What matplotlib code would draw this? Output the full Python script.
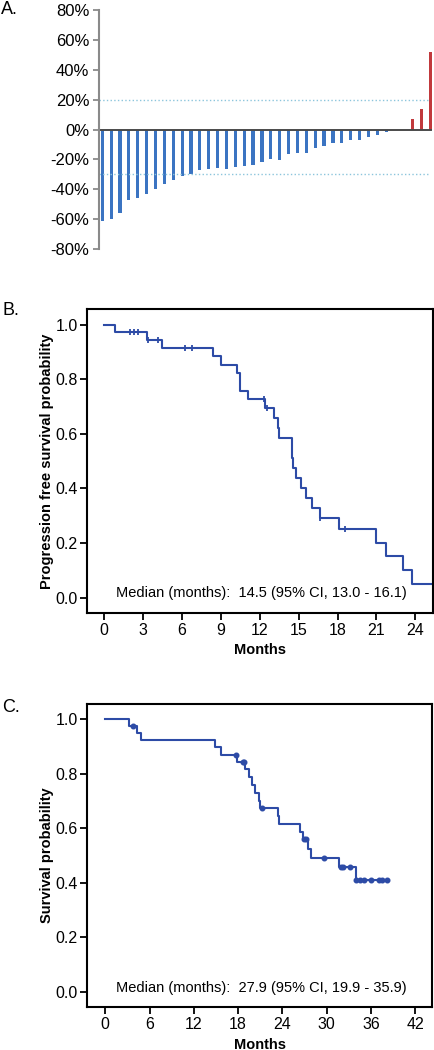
import matplotlib
matplotlib.use("Agg")
import matplotlib.pyplot as plt
import numpy as np

plt.rcParams['font.family'] = ['Liberation Sans', 'DejaVu Sans']

W, H = 435, 1050

# panel A: best change from baseline (%), one value per patient
change = [-61, -59.6, -56.2, -47.3, -45.6, -43, -40, -36.6, -33.5, -31.1,
          -29.6, -27, -26.2, -26.1, -26.4, -24.9, -24.3, -23.9, -21.8, -19.8,
          -20.2, -16.4, -15.6, -16, -12.3, -11.1, -9.3, -9.3, -6.8, -6.8,
          -5, -3.7, -1.8, 0, 0, 7.3, 13.6, 52.2]
pct_ticks = [-80, -60, -40, -20, 0, 20, 40, 60, 80]

# panel B: progression free survival
pfs_t = [0, 0.85, 3.32, 4.43, 8.36, 9.03, 10.26, 10.45, 11.06, 12.4, 13.07,
         13.38, 13.48, 14.48, 14.59, 14.79, 15.15, 15.56, 16.03, 16.62, 18.13,
         20.94, 21.74, 23.02, 23.72, 25.4]
pfs_s = [1.0, 0.972, 0.945, 0.916, 0.886, 0.853, 0.822, 0.758, 0.726, 0.694,
         0.658, 0.62, 0.585, 0.512, 0.475, 0.438, 0.402, 0.365, 0.329, 0.292,
         0.25, 0.202, 0.151, 0.101, 0.051, 0.051]
pfs_cens = [1.98, 2.29, 2.58, 3.4, 4.14, 6.23, 6.79, 12.35, 12.55, 16.65, 18.57]

# panel C: overall survival
os_t = [0, 3.26, 4.34, 4.88, 14.92, 15.73, 17.81, 18.99, 19.49, 19.89, 20.3,
        20.8, 21.0, 23.4, 23.5, 26.4, 26.8, 27.44, 27.85, 31.64, 33.9, 38.37]
os_s = [1.0, 0.974, 0.95, 0.923, 0.896, 0.869, 0.844, 0.815, 0.787, 0.758,
        0.73, 0.701, 0.675, 0.645, 0.616, 0.587, 0.559, 0.524, 0.49, 0.457,
        0.41, 0.41]
os_cens = [3.76, 17.68, 18.6, 18.75, 21.29, 26.9, 27.15, 29.61, 31.9, 32.2,
           33.1, 34.03, 34.44, 34.98, 35.93, 37.11, 37.52, 38.15]

BLUE = '#3b74c2'
RED = '#c1393c'
KM = '#2d4ba6'


def px_axes(fig, left, top, right, bottom):
    return fig.add_axes([left / W, 1 - bottom / H, (right - left) / W, (bottom - top) / H])


def surv_at(times, surv, c):
    idx = np.searchsorted(times, c, side='right') - 1
    return np.asarray(surv)[idx]


def km_panel(ax, times, surv, cens, marker, ms, xlim, xticks, ylabel, note, note_x):
    ax.step(times, surv, where='post', color=KM, lw=1.5)
    ax.plot(cens, surv_at(times, surv, cens), ls='none', marker=marker,
            color=KM, ms=ms, mew=1.3)
    ax.set_xlim(*xlim)
    ax.set_ylim(-0.056, 1.056)
    ax.set_xticks(xticks)
    ax.set_yticks([0, 0.2, 0.4, 0.6, 0.8, 1.0])
    ax.set_yticklabels(['0.0', '0.2', '0.4', '0.6', '0.8', '1.0'])
    for s in ax.spines.values():
        s.set_linewidth(1.5)
    ax.tick_params(direction='out', length=5, width=1.3, labelsize=11.5, pad=2)
    ax.set_xlabel('Months', fontsize=10.5, fontweight='bold', labelpad=4)
    ax.set_ylabel(ylabel, fontsize=10.5, fontweight='bold')
    ax.yaxis.set_label_coords(-0.097, 0.5)
    ax.text(note_x, 0.016, note, ha='center', va='center', fontsize=10.5)


fig = plt.figure(figsize=(W / 100, H / 100), dpi=100)

# ---- A
axA = px_axes(fig, 99, 10, 433, 249)
x = np.arange(len(change))
cols = [RED if v > 0 else BLUE for v in change]
axA.bar(x, change, width=0.36, color=cols)
axA.set_xlim(-0.37, 37.28)
axA.set_ylim(-80, 80)
axA.axhline(0, xmin=0, xmax=0.995, color='#4a4a4a', lw=1.4)
axA.axhline(20, xmin=0, xmax=0.985, color='#8cc5dc', lw=1.0, ls=':')
axA.axhline(-30, xmin=0, xmax=0.985, color='#8cc5dc', lw=1.0, ls=':')
for side in ['top', 'right', 'bottom']:
    axA.spines[side].set_visible(False)
axA.spines['left'].set_color('#8a8a8a')
axA.spines['left'].set_linewidth(1.5)
axA.set_xticks([])
axA.set_yticks(pct_ticks)
axA.set_yticklabels([f'{v}%' for v in pct_ticks])
axA.tick_params(axis='y', direction='out', length=4, width=1.3, color='#8a8a8a',
                labelsize=12, pad=3)

# ---- B
axB = px_axes(fig, 87.3, 309.3, 433, 613)
km_panel(axB, pfs_t, pfs_s, pfs_cens, '|', 5, (-1.31, 25.36), range(0, 25, 3),
         'Progression free survival probability',
         'Median (months):  14.5 (95% CI, 13.0 - 16.1)', 12.1)

# ---- C
axC = px_axes(fig, 87.3, 703.7, 432.3, 1007.3)
km_panel(axC, os_t, os_s, os_cens, 'o', 3, (-2.44, 44.3), range(0, 43, 6),
         'Survival probability',
         'Median (months):  27.9 (95% CI, 19.9 - 35.9)', 21.2)

fig.text(1 / W, 1 - 9 / H, 'A.', fontsize=13, va='center', ha='left')
fig.text(2 / W, 1 - 310 / H, 'B.', fontsize=13, va='center', ha='left')
fig.text(2 / W, 1 - 708 / H, 'C.', fontsize=13, va='center', ha='left')

fig.savefig('out.png', dpi=100)
